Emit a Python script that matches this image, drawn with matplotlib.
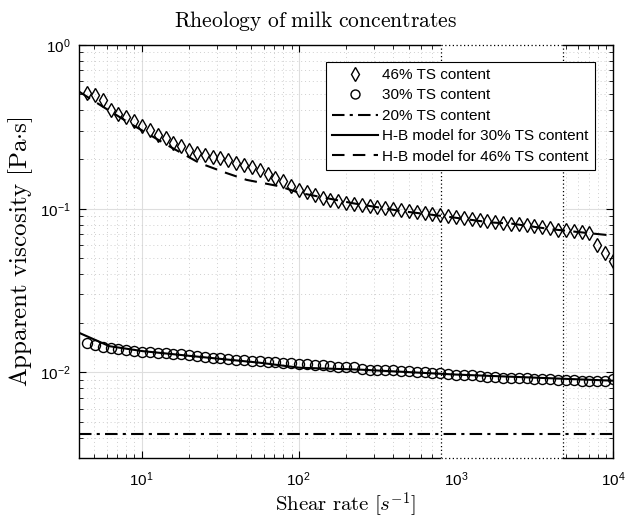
import numpy as np
import matplotlib
matplotlib.use("Agg")
import matplotlib.pyplot as plt
from matplotlib.ticker import FuncFormatter, NullFormatter, LogLocator

plt.rcParams['font.family'] = ['Liberation Sans', 'DejaVu Sans']
plt.rcParams['mathtext.fontset'] = 'custom'
plt.rcParams['mathtext.rm'] = 'Liberation Sans'
plt.rcParams['mathtext.it'] = 'Liberation Sans:italic'
plt.rcParams['mathtext.bf'] = 'Liberation Sans:bold'

# ---------------- data ----------------
shear_rate = np.logspace(np.log10(4.5), 4, 68)

visc_46 = [0.508, 0.496, 0.462, 0.402, 0.380, 0.362, 0.341, 0.318, 0.303, 0.283,
           0.270, 0.252, 0.240, 0.229, 0.219, 0.213, 0.207, 0.204, 0.197, 0.190,
           0.186, 0.180, 0.173, 0.163, 0.155, 0.147, 0.137, 0.131, 0.126, 0.122,
           0.116, 0.1135, 0.111, 0.109, 0.107, 0.105, 0.1035, 0.102, 0.1007, 0.0993,
           0.098, 0.0966, 0.0952, 0.094, 0.0926, 0.0913, 0.090, 0.0888, 0.0875, 0.0869,
           0.0857, 0.0837, 0.0825, 0.0818, 0.0810, 0.0808, 0.0799, 0.078, 0.0769, 0.0762,
           0.0744, 0.0742, 0.0727, 0.0717, 0.0711, 0.0603, 0.0537, 0.0478]

visc_30 = [0.01518, 0.01466, 0.01434, 0.01415, 0.01394, 0.0138, 0.01348, 0.01337, 0.0133, 0.01318,
           0.01306, 0.0130, 0.01288, 0.0127, 0.01257, 0.01247, 0.0123, 0.01217, 0.0120, 0.01189,
           0.01184, 0.01180, 0.01172, 0.01161, 0.01155, 0.01146, 0.01135, 0.0113, 0.0112, 0.0111,
           0.01104, 0.01093, 0.01080, 0.01077, 0.01072,
           0.0105, 0.0104, 0.0104, 0.0103, 0.0103, 0.0102, 0.0102, 0.0101, 0.0100, 0.0099,
           0.0099, 0.0098, 0.0097, 0.0096, 0.0096, 0.0095, 0.0094, 0.0094, 0.0093, 0.0093,
           0.0092, 0.0092, 0.0091, 0.0091, 0.0091, 0.0090, 0.0090, 0.0090, 0.0089, 0.0088,
           0.0088, 0.0088, 0.0091]

visc_20_level = 0.0042
range_20 = [4.0, 10000.0]

hb46_x = [4.03, 5.65, 8.39, 11.75, 15.1, 23.4, 34.8, 46.6, 75.7, 101, 151, 221,
          440, 916, 1648, 2275, 3974, 6830, 10000]
hb46_y = [0.517, 0.421, 0.333, 0.276, 0.240, 0.190, 0.165, 0.150, 0.137, 0.125, 0.116, 0.108,
          0.097, 0.089, 0.0825, 0.081, 0.0751, 0.0711, 0.0685]

hb30_x = [4.0, 6.25, 10.15, 21.1, 56.5, 101, 245, 1000, 10000]
hb30_y = [0.01746, 0.01446, 0.01349, 0.01257, 0.01146, 0.01068, 0.0104, 0.0097, 0.0089]

box_x = [800, 4800]

labels = ['46% TS content', '30% TS content', '20% TS content',
          'H-B model for 30% TS content', 'H-B model for 46% TS content']

# ---------------- figure ----------------
fig = plt.figure(figsize=(6.26, 5.20), dpi=100)
ax = fig.add_axes([79/626, 1-458/520, (613-79)/626, (458-45)/520])
ax.set_xscale('log')
ax.set_yscale('log')
ax.set_xlim(4, 1e4)
ax.set_ylim(3e-3, 1)

ax.set_axisbelow(True)
ax.grid(True, which='major', color='#dedede', linewidth=0.8, linestyle='-')
ax.grid(True, which='minor', color='#cfcfcf', linewidth=0.7, linestyle=(0, (1, 3)))

# white box with dotted border
ax.axvspan(box_x[0], box_x[1], ymin=-0.004, ymax=1.004, facecolor='white',
           edgecolor='none', zorder=2.6, clip_on=False)
for xv in box_x:
    ax.axvline(xv, color='black', linestyle=(0, (1, 2)), linewidth=0.9, zorder=2.7)
ax.plot(box_x, [3e-3, 3e-3], color='black', linestyle=(0, (1, 2)), linewidth=0.9,
        zorder=2.7, clip_on=False)
ax.plot(box_x, [1, 1], color='black', linestyle=(0, (1, 2)), linewidth=0.9,
        zorder=2.7, clip_on=False)

h1, = ax.plot(shear_rate, visc_46, linestyle='none', marker='d', markersize=7.5,
              markerfacecolor='none', markeredgecolor='black', markeredgewidth=1.0, zorder=4)
h2, = ax.plot(shear_rate, visc_30, linestyle='none', marker='o', markersize=7.2,
              markerfacecolor='none', markeredgecolor='black', markeredgewidth=1.0, zorder=4)
h3, = ax.plot(range_20, [visc_20_level, visc_20_level], color='black', linewidth=1.5,
              linestyle=(0, (6, 2.5, 1.5, 2.5)), zorder=3)
h4, = ax.plot(hb30_x, hb30_y, color='black', linewidth=1.5, linestyle='-', zorder=3)
h5, = ax.plot(hb46_x, hb46_y, color='black', linewidth=1.5, linestyle=(0, (6, 4)), zorder=3)

# ticks
ax.xaxis.set_major_locator(LogLocator(base=10, numticks=10))
ax.yaxis.set_major_locator(LogLocator(base=10, numticks=10))
ax.xaxis.set_minor_locator(LogLocator(base=10, subs=np.arange(2, 10), numticks=20))
ax.yaxis.set_minor_locator(LogLocator(base=10, subs=np.arange(2, 10), numticks=20))
fmt = FuncFormatter(lambda v, p: r'$10^{%d}$' % int(round(np.log10(v))))
ax.xaxis.set_major_formatter(fmt)
ax.yaxis.set_major_formatter(fmt)
ax.xaxis.set_minor_formatter(NullFormatter())
ax.yaxis.set_minor_formatter(NullFormatter())
ax.tick_params(which='both', direction='in', top=True, right=True, color='black',
               labelsize=11)
ax.tick_params(axis='x', which='major', pad=9)
ax.tick_params(axis='y', which='major', pad=6)
ax.tick_params(which='major', length=5, width=0.8)
ax.tick_params(which='minor', length=3, width=0.6)
for s in ax.spines.values():
    s.set_linewidth(1.0)
    s.set_color('black')

ax.set_title(r'$\mathrm{Rheology\ of\ milk\ concentrates}$', fontsize=15.5,
             math_fontfamily='cm', pad=13, x=0.443)
ax.set_xlabel(r'$\mathrm{Shear\ rate}\ [s^{-1}]$', fontsize=15, math_fontfamily='cm',
              labelpad=1)
ax.set_ylabel(r'$\mathrm{Apparent\ viscosity\ [Pa{\cdot}s]}$', fontsize=18,
              math_fontfamily='cm')
ax.yaxis.set_label_coords(-0.083, 0.5)

leg = ax.legend([h1, h2, h3, h4, h5], labels, loc='upper right',
                bbox_to_anchor=(0.966, 0.959), borderaxespad=0, fontsize=11,
                frameon=True, fancybox=False, edgecolor='black', framealpha=1,
                handlelength=3.0, labelspacing=0.42, borderpad=0.4, handletextpad=0.3,
                markerscale=0.9)
leg.get_frame().set_linewidth(0.8)
leg.set_zorder(5)

fig.savefig('out.png', dpi=100)
